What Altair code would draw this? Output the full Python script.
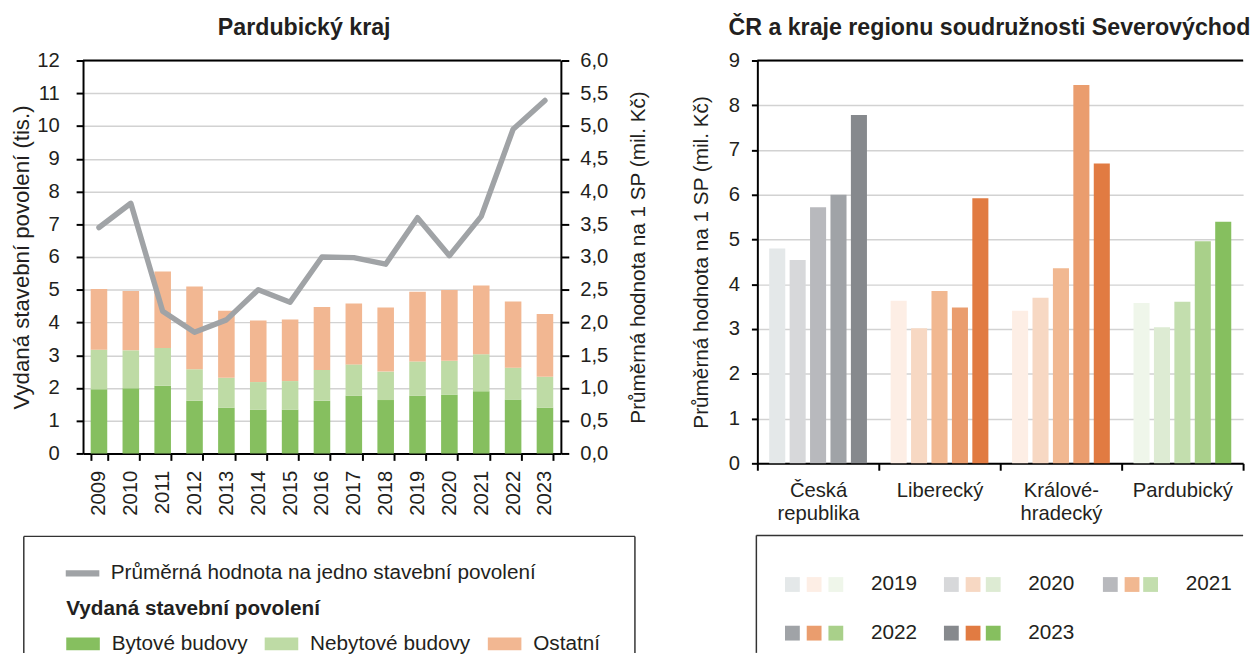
import json
import altair as alt
import pandas as pd

# ---------------- data: left panel (Pardubický kraj) ----------------
roky = [str(r) for r in range(2009, 2024)]
bytove = [1.96, 1.99, 2.07, 1.61, 1.40, 1.34, 1.34, 1.61, 1.76, 1.63, 1.76, 1.79, 1.90, 1.65, 1.40]
nebytove = [1.21, 1.16, 1.15, 0.96, 0.91, 0.84, 0.87, 0.94, 0.96, 0.87, 1.05, 1.04, 1.13, 0.97, 0.94]
ostatni = [1.85, 1.81, 2.34, 2.53, 2.05, 1.88, 1.88, 1.92, 1.86, 1.96, 2.13, 2.16, 2.10, 2.02, 1.92]
prumer = [3.45, 3.82, 2.17, 1.85, 2.04, 2.50, 2.31, 3.00, 2.99, 2.89, 3.60, 3.02, 3.62, 4.95, 5.39]

kategorie = ["Bytové budovy", "Nebytové budovy", "Ostatní"]
barvy_kat = ["#86bf5f", "#bedba5", "#f2b792"]
serie_nazev = "Průměrná hodnota na jedno stavební povolení"
barva_linie = "#a0a3a6"

# ---------------- data: right panel ----------------
regiony = ["Česká republika", "Liberecký", "Královéhradecký", "Pardubický"]
regiony_popisky = [["Česká", "republika"], ["Liberecký"], ["Králové-", "hradecký"], ["Pardubický"]]
roky_sp = ["2019", "2020", "2021", "2022", "2023"]
hodnoty_cr = [4.80, 4.54, 5.72, 6.00, 7.78]
hodnoty_lbk = [3.63, 3.02, 3.85, 3.48, 5.92]
hodnoty_hkk = [3.41, 3.70, 4.36, 8.45, 6.70]
hodnoty_pak = [3.58, 3.04, 3.61, 4.96, 5.40]

paleta_seda = ["#e4e8e9", "#d7d8da", "#b8b9bd", "#a0a3a7", "#86898d"]
paleta_oranzova = ["#fdeee5", "#f7d8c3", "#f1b891", "#ea9d6e", "#e17b42"]
paleta_zelena = ["#eff6ea", "#ddebd3", "#c3deae", "#a9d08a", "#86bf5f"]

FONT = "Liberation Sans"
FS = 20.5      # axis labels
LFS = 21       # legend text
TFS = 23.5     # chart titles
TXT = "#231f20"

# ================= LEFT PANEL =================
W1, H1 = 484, 398

rows = []
for i, (k, vals) in enumerate(zip(kategorie, [bytove, nebytove, ostatni])):
    for r, v in zip(roky, vals):
        rows.append({"rok": r, "kategorie": k, "hodnota": v, "poradi": i})
df_bars = pd.DataFrame(rows)
df_line = pd.DataFrame({"rok": roky, "prumer": prumer, "serie": [serie_nazev] * len(roky)})

x_left = alt.X(
    "rok:O",
    scale=alt.Scale(domain=roky, paddingInner=0.48, paddingOuter=0.24),
    axis=alt.Axis(title=None, labelAngle=270, tickBand="extent", tickSize=7,
                  labelPadding=10, grid=False),
)

bars = alt.Chart(df_bars).mark_bar().encode(
    x=x_left,
    y=alt.Y("hodnota:Q", stack="zero",
            scale=alt.Scale(domain=[0, 12], nice=False),
            axis=alt.Axis(values=list(range(13)), title="Vydaná stavební povolení (tis.)",
                          titleFontSize=22.5, titlePadding=3, tickSize=7, labelPadding=17,
                          grid=True)),
    color=alt.Color("kategorie:N", scale=alt.Scale(domain=kategorie, range=barvy_kat),
                    legend=alt.Legend(title="Vydaná stavební povolení", orient="none",
                                      legendX=-17, legendY=545, direction="horizontal",
                                      symbolType="M-1,-0.38H1V0.38H-1Z", symbolSize=1156,
                                      symbolStrokeWidth=0, labelOffset=12, columnPadding=17,
                                      titlePadding=8, titleFontSize=LFS, titleFontWeight="bold",
                                      titleColor=TXT, labelColor=TXT, labelFontSize=LFS,
                                      padding=0, labelLimit=400, titleLimit=600)),
    order=alt.Order("poradi:Q"),
)

line = alt.Chart(df_line).mark_line(strokeWidth=5.5, strokeCap="round", strokeJoin="round").encode(
    x=x_left,
    y=alt.Y("prumer:Q", scale=alt.Scale(domain=[0, 6], nice=False),
            axis=alt.Axis(orient="right", values=[i * 0.5 for i in range(13)],
                          labelExpr="replace(format(datum.value, '.1f'), '.', ',')",
                          title="Průměrná hodnota na 1 SP (mil. Kč)", titleAngle=270,
                          titleFontSize=21, titleBaseline="top", titlePadding=20, tickSize=8,
                          labelPadding=11, grid=False)),
    stroke=alt.Stroke("serie:N", scale=alt.Scale(domain=[serie_nazev], range=[barva_linie]),
                      legend=alt.Legend(title=None, orient="none", legendX=-21, legendY=499,
                                        symbolType="stroke", symbolSize=1156,
                                        symbolStrokeWidth=6.5, labelOffset=8,
                                        labelFontSize=LFS, labelColor=TXT, padding=0,
                                        labelLimit=600)),
)

one = pd.DataFrame({"a": [0]})
top_left = alt.Chart(one).mark_rule(color="black", strokeWidth=2).encode(
    x=alt.value(0), x2=alt.value(W1), y=alt.value(0))
box_l_top = alt.Chart(one).mark_rule(color="#333333", strokeWidth=1.5).encode(
    x=alt.value(-60), x2=alt.value(559), y=alt.value(482))
box_l_left = alt.Chart(one).mark_rule(color="#333333", strokeWidth=1.5).encode(
    x=alt.value(-60), y=alt.value(482), y2=alt.value(600))
box_l_right = alt.Chart(one).mark_rule(color="#333333", strokeWidth=1.5).encode(
    x=alt.value(559), y=alt.value(482), y2=alt.value(600))

left = alt.layer(bars, line, top_left, box_l_top, box_l_left, box_l_right).resolve_scale(
    y="independent", color="independent"
).properties(
    width=W1, height=H1,
    title=alt.TitleParams("Pardubický kraj", fontSize=TFS, fontWeight="bold", font=FONT,
                          color=TXT, anchor="middle", frame="group", dx=-18, offset=11),
)

# ================= RIGHT PANEL =================
W2, H2 = 492, 408

def frame(reg_list, vals_list):
    rr = []
    for reg, vals in zip(reg_list, vals_list):
        for rok, v in zip(roky_sp, vals):
            rr.append({"region": reg, "rok": rok, "hodnota": v})
    return pd.DataFrame(rr)

df_seda = frame([regiony[0]], [hodnoty_cr])
df_oranz = frame([regiony[1], regiony[2]], [hodnoty_lbk, hodnoty_hkk])
df_zel = frame([regiony[3]], [hodnoty_pak])

label_expr = ""
for reg, pop in zip(regiony, regiony_popisky):
    label_expr += f"datum.value == {json.dumps(reg, ensure_ascii=False)} ? {json.dumps(pop, ensure_ascii=False)} : "
label_expr += "datum.value"

x_right = alt.X("region:N", scale=alt.Scale(domain=regiony, paddingInner=0, paddingOuter=0),
                axis=alt.Axis(title=None, labelAngle=0, tickBand="extent", tickSize=7,
                              labelPadding=11, labelExpr=label_expr, labelLineHeight=23,
                              labelBaseline="top", grid=False))
xoff = alt.XOffset("rok:N", scale=alt.Scale(domain=roky_sp, paddingInner=0.214, paddingOuter=0.58))
y_right = alt.Y("hodnota:Q", scale=alt.Scale(domain=[0, 9], nice=False),
                axis=alt.Axis(values=list(range(10)), title="Průměrná hodnota na 1 SP (mil. Kč)",
                              titleFontSize=21, titlePadding=17, tickSize=6, labelPadding=12,
                              grid=True))

def leg(dx, show_labels):
    if show_labels:
        return alt.Legend(title=None, orient="none", legendX=dx, legendY=520,
                          direction="horizontal", columns=3, symbolType="square",
                          symbolSize=225, symbolStrokeWidth=0, labelOffset=25,
                          columnPadding=66.4, rowPadding=27.5, labelFontSize=LFS,
                          labelColor=TXT, padding=0)
    return alt.Legend(title=None, orient="none", legendX=dx, legendY=520,
                      direction="horizontal", columns=3, symbolType="square",
                      symbolSize=225, symbolStrokeWidth=0, labelOffset=0,
                      labelExpr="''", columnPadding=140, rowPadding=27.5,
                      labelFontSize=LFS, padding=0)

def vrstva(df, pal, dx, show):
    return alt.Chart(df).mark_bar().encode(
        x=x_right, xOffset=xoff, y=y_right,
        color=alt.Color("rok:N", scale=alt.Scale(domain=roky_sp, range=pal),
                        legend=leg(dx, show)),
    )

top_right = alt.Chart(one).mark_rule(color="black", strokeWidth=2).encode(
    x=alt.value(0), x2=alt.value(W2), y=alt.value(0))
box_r_top = alt.Chart(one).mark_rule(color="#333333", strokeWidth=1.5).encode(
    x=alt.value(-1), x2=alt.value(W2), y=alt.value(481))
box_r_left = alt.Chart(one).mark_rule(color="#333333", strokeWidth=1.5).encode(
    x=alt.value(-1), y=alt.value(481), y2=alt.value(600))

right = alt.layer(
    vrstva(df_seda, paleta_seda, 25, False),
    vrstva(df_oranz, paleta_oranzova, 47, False),
    vrstva(df_zel, paleta_zelena, 69, True),
    top_right, box_r_top, box_r_left,
).resolve_scale(color="independent").properties(
    width=W2, height=H2,
    title=alt.TitleParams("ČR a kraje regionu soudružnosti Severovýchod", fontSize=TFS,
                          fontWeight="bold", font=FONT, color=TXT, anchor="middle",
                          frame="group", dx=-11, offset=11),
)

chart = alt.hconcat(left, right, spacing=42).properties(
    padding={"left": 3, "top": 4, "right": 0, "bottom": 0}
).configure(font=FONT).configure_axis(
    labelFont=FONT, titleFont=FONT, labelFontSize=FS, titleFontSize=FS,
    titleFontWeight="normal", labelColor=TXT, titleColor=TXT,
    domainColor="black", domainWidth=2, tickColor="black", tickWidth=2,
    gridColor="#d2d2d2", gridWidth=1.5,
).configure_legend(labelFont=FONT, titleFont=FONT).configure_view(strokeWidth=0)

chart.save("out.html", embed_options={"renderer": "svg", "actions": False})
